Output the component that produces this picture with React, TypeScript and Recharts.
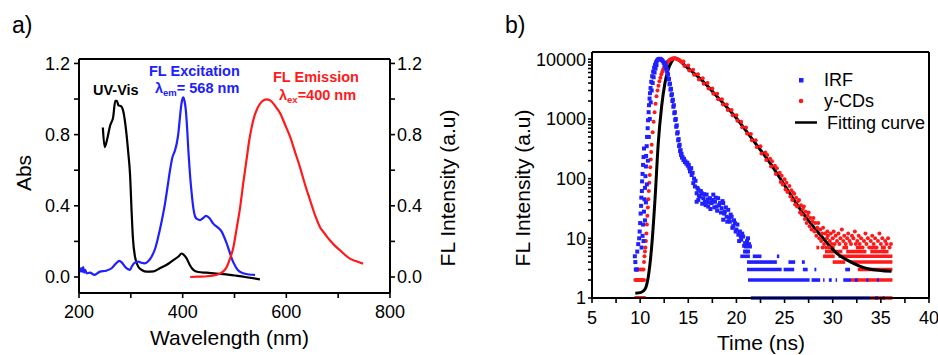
import React from 'react';
import { LineChart, ComposedChart, Line, Scatter, XAxis, YAxis, ReferenceLine } from 'recharts';

// ---------- Panel a data ----------
const uvVis: [number, number][] = [
  [246, 0.84], [249.5, 0.73], [254, 0.77], [260, 0.85], [266, 0.9], [270, 0.99], [273, 0.99], [276, 0.965],
  [281, 0.96], [285.5, 0.93], [291, 0.82], [295, 0.7], [298.4, 0.58], [301.6, 0.36], [304, 0.22], [308, 0.114],
  [314.4, 0.058], [322, 0.038], [330.6, 0.03], [344, 0.032], [356, 0.049], [370, 0.07], [382, 0.095], [392, 0.115],
  [398, 0.132], [402, 0.125], [407.6, 0.105], [414, 0.066], [420.5, 0.04], [430, 0.028], [446, 0.024], [470, 0.018],
  [491, 0.012], [520, 0.0], [549, -0.013],
];
const flExcitation: [number, number][] = [
  [200, 0.045], [202, 0.03], [204, 0.05], [206, 0.028], [208, 0.055], [210, 0.025], [212, 0.04], [215, 0.02],
  [221, 0.024], [230, 0.012], [240.5, 0.03], [252, 0.035], [263, 0.049], [271, 0.075], [277.8, 0.091], [283, 0.08],
  [288.8, 0.058], [294, 0.045], [298.4, 0.04], [302, 0.06], [306, 0.077], [314.5, 0.086], [320, 0.08], [327, 0.077],
  [334, 0.09], [340, 0.114], [347, 0.16], [353, 0.227], [360, 0.32], [366, 0.414], [371, 0.51], [375.6, 0.6],
  [380, 0.67], [385, 0.71], [388.5, 0.75], [391.6, 0.806], [394.5, 0.89], [396.8, 0.955], [399, 0.995], [401, 1.01],
  [403.5, 0.99], [406, 0.94], [408.5, 0.84], [411, 0.71], [414, 0.58], [417.4, 0.47], [420.5, 0.39], [424, 0.34],
  [428, 0.325], [433.5, 0.32], [439, 0.33], [445, 0.343], [452, 0.33], [459, 0.3], [467, 0.28], [475, 0.256],
  [480, 0.225], [484.8, 0.19], [490, 0.145], [494.6, 0.105], [499, 0.075], [504, 0.049], [510, 0.03], [517, 0.021],
  [528, 0.014], [539.6, 0.012],
];
const flEmission: [number, number][] = [
  [414.5, 0.0], [430, 0.002], [446.6, 0.004], [460, 0.009], [472, 0.019], [479, 0.033], [485, 0.056], [491, 0.1],
  [498, 0.169], [504, 0.27], [511, 0.394], [517, 0.53], [524, 0.675], [528, 0.76], [533, 0.84], [538, 0.9],
  [543, 0.94], [548, 0.968], [552.6, 0.985], [557, 0.995], [562, 0.998], [567, 0.995], [572, 0.985], [580, 0.955],
  [588, 0.92], [597, 0.86], [607, 0.79], [616, 0.71], [626, 0.62], [636, 0.52], [646, 0.43], [655, 0.35],
  [665, 0.28], [675, 0.24], [684, 0.206], [694, 0.175], [703.5, 0.15], [713, 0.125], [722.7, 0.103], [735, 0.088],
  [748, 0.075],
];
const aXDomain = [200, 800];
const aYDomain = [-0.09, 1.225];
const aXTicks = [200, 300, 400, 500, 600, 700, 800];
const aXLabels = [200, 400, 600, 800];
const aYTicks = [0, 0.2, 0.4, 0.6, 0.8, 1.0, 1.2];
const aYLabels = [0, 0.4, 0.8, 1.2];

// ---------- Panel b data ----------
const irfPoints: [number, number][] = [
  [9.45, 5], [9.5, 4], [9.55, 3], [9.65, 3], [9.7, 6], [9.8, 8], [9.9, 10], [9.95, 13], [10.0, 18], [10.05, 26],
  [10.1, 35], [10.12, 48], [10.18, 62], [10.2, 90], [10.25, 120], [10.3, 170], [10.35, 230], [10.4, 320],
  [10.15, 7], [10.25, 11], [10.3, 17], [10.4, 28], [10.45, 45], [10.5, 70], [10.55, 110], [10.6, 160], [10.62, 240],
  [10.68, 350], [10.72, 500], [10.78, 700], [10.82, 950], [10.88, 1300], [10.92, 1700], [10.98, 2200], [11.02, 2700],
  [11.08, 3300], [11.15, 4200], [11.25, 5200], [11.35, 6200], [11.45, 7200], [11.55, 8100], [11.65, 8900],
  [11.75, 9500], [11.85, 9900], [11.95, 10100], [12.05, 10200], [12.15, 10000], [12.25, 9700], [12.35, 9300],
  [12.45, 8700], [12.55, 8000], [12.65, 7200], [12.75, 6400], [12.85, 5500], [12.95, 4600], [13.05, 3800],
  [13.15, 3100], [13.25, 2500], [13.35, 2000], [13.45, 1600], [13.55, 1250], [13.65, 960], [13.75, 740], [13.85, 570],
  [13.95, 440], [14.05, 350], [14.15, 290], [14.25, 250], [14.35, 225], [14.5, 205], [14.65, 190], [14.8, 178],
  [14.95, 165], [15.1, 150], [15.2, 135],
  [10.35, 9], [10.5, 20], [10.6, 40], [10.7, 80], [10.8, 200], [10.9, 500], [11.0, 1000], [11.1, 1900], [11.2, 3000],
  [11.3, 4000], [11.4, 5000], [11.5, 6000], [11.6, 7000], [11.7, 8000], [12.6, 8800], [12.7, 7600], [12.8, 6600],
  [12.9, 5600], [13.0, 4700], [13.1, 3900], [13.2, 3200], [13.3, 2600], [13.4, 2100], [13.5, 1700], [13.6, 1300],
  [13.7, 1000], [13.8, 780], [13.9, 600], [14.0, 460], [14.1, 370], [14.2, 300], [14.3, 260], [14.4, 230],
  [14.55, 215], [14.7, 195], [14.9, 185], [15.05, 170],
  [15.18, 132], [15.3, 150], [15.35, 115], [15.45, 125], [15.52, 84], [15.6, 100], [15.69, 74], [15.75, 92],
  [15.87, 57], [15.87, 41], [15.95, 70], [16.04, 65], [16.04, 44], [16.1, 52], [16.2, 50], [16.3, 62], [16.4, 57],
  [16.45, 38], [16.56, 47], [16.65, 55], [16.73, 41], [16.8, 36], [16.9, 54], [17.0, 45], [17.07, 34], [17.15, 40],
  [17.25, 47], [17.3, 31], [17.42, 39], [17.5, 44], [17.6, 54], [17.7, 33], [17.77, 41], [17.85, 48], [17.94, 34],
  [18.0, 29], [18.1, 47], [18.2, 36], [18.3, 39], [18.4, 27], [18.46, 32], [18.55, 42], [18.63, 39], [18.63, 20.5],
  [18.72, 26], [18.8, 28], [18.9, 33], [18.98, 23], [19.05, 19], [19.15, 30], [19.25, 22], [19.32, 19], [19.4, 25],
  [19.5, 23], [19.58, 15], [19.67, 16], [19.75, 20], [19.84, 18], [19.92, 13], [20.0, 14], [20.1, 17], [20.2, 11.5],
  [20.28, 9], [20.36, 13], [20.45, 10.8], [20.5, 9.5], [20.6, 12], [20.7, 10.7], [20.8, 7.5], [20.9, 8.3], [20.9, 6],
  [21.0, 7.3], [21.1, 9], [21.2, 10], [21.2, 6], [21.3, 8], [21.4, 7.3],
];
// constant-count rows of IRF: [count, start ns, end ns]
const irfRows: [number, number, number][] = [
  [5, 20.4, 21.4], [5, 21.7, 22.6], [5, 24.2, 24.45],
  [4, 21.1, 24.2], [4, 25.4, 26.1], [4, 26.8, 27.1],
  [3, 21.1, 24.7], [3, 24.9, 26.0], [3, 26.9, 27.4], [3, 28.1, 28.3], [3, 31.3, 31.8],
  [2, 21.2, 27.6], [2, 27.8, 28.7], [2, 29.0, 29.15], [2, 29.6, 29.9], [2, 30.3, 30.45], [2, 31.1, 31.9],
  [1, 21.5, 33.9],
];
const irfRowsOnTop: [number, number, number][] = [
  [2, 32.3, 32.6], [2, 33.5, 33.7], [2, 34.6, 34.8], [1, 34.4, 34.7], [1, 35.2, 35.4],
];
const cdsPoints: [number, number][] = [
  [9.55, 1], [9.7, 1], [9.85, 1], [10.0, 1], [10.15, 1], [10.3, 1], [10.45, 1],
  [9.5, 2], [9.65, 2], [9.8, 2], [9.95, 2], [10.1, 2], [10.25, 2], [10.4, 2],
  [9.6, 3], [9.8, 3], [10.0, 3], [10.2, 3], [10.35, 3],
  [10.4, 4], [10.45, 5], [10.5, 6], [10.55, 7], [10.6, 9], [10.65, 12], [10.7, 17], [10.75, 24], [10.8, 33],
  [10.85, 45], [10.9, 62], [10.95, 85], [11.0, 115], [11.05, 155], [11.1, 210], [11.15, 280], [11.2, 370],
  [11.3, 600], [11.4, 900], [11.5, 1300], [11.6, 1800], [11.7, 2400], [11.8, 3000], [11.9, 3600], [12.0, 4300],
  [12.1, 4900], [12.2, 5600], [12.3, 6200], [12.4, 6800], [12.5, 7400], [12.6, 7900], [12.7, 8400], [12.8, 8800],
  [12.9, 9200], [13.0, 9500], [13.1, 9800], [13.2, 10000], [13.3, 10200], [13.4, 10300], [13.5, 10400],
  [13.6, 10400], [13.7, 10300], [13.8, 10200], [13.9, 10000], [14.0, 9800], [14.1, 9600], [14.25, 9200], [14.4, 8800],
  [14.5, 9200], [14.6, 7700], [15.0, 7900], [15.1, 6500], [15.5, 6700], [15.6, 5500], [16.0, 5600], [16.1, 4600],
  [16.5, 4800], [16.6, 3900], [17.0, 4000], [17.1, 3250], [17.5, 3250], [17.6, 2650], [18.0, 2650], [18.1, 2150],
  [18.5, 2150], [18.6, 1750], [19.0, 1750], [19.1, 1420], [19.5, 1420], [19.6, 1150], [20.0, 1150], [20.1, 930],
  [20.5, 900], [20.6, 730], [21.0, 720], [21.1, 570], [21.5, 560], [21.6, 440], [22.0, 440], [22.1, 340],
  [22.5, 350], [22.6, 265], [23.0, 275], [23.1, 205], [23.2, 250], [23.5, 215], [23.6, 160], [23.7, 195],
  [24.0, 165], [24.1, 120], [24.2, 150], [24.5, 125], [24.6, 88], [24.7, 112], [24.8, 80], [25.0, 98], [25.1, 66],
  [25.2, 85], [25.3, 60], [25.5, 75], [25.6, 50], [25.7, 64], [25.8, 44], [25.9, 58], [26.0, 56], [26.1, 37],
  [26.2, 48], [26.3, 34], [26.4, 42], [26.5, 44], [26.6, 27], [26.7, 36], [26.8, 25], [26.9, 31], [27.0, 34],
  [27.1, 21], [27.2, 28], [27.3, 18], [27.4, 24], [27.5, 27], [27.6, 16], [27.7, 22], [27.8, 14], [27.9, 19],
  [28.0, 22], [28.1, 13], [28.2, 18], [28.3, 11], [28.4, 15], [28.5, 18], [28.6, 10], [28.7, 14], [28.8, 9],
  [28.9, 12], [28.95, 7], [29.0, 15], [29.1, 8], [29.2, 12], [29.3, 7], [29.4, 10], [29.45, 13], [29.5, 11],
  [29.6, 7], [29.7, 9], [29.8, 12], [29.9, 8], [30.0, 10], [30.1, 13], [30.2, 8], [30.3, 11], [30.45, 9], [30.6, 12],
  [30.7, 8], [30.8, 10], [30.95, 14], [31.1, 9], [31.2, 11], [31.35, 8], [31.5, 10], [31.6, 12], [31.75, 9],
  [31.9, 8], [32.0, 11], [32.15, 10], [32.3, 13], [32.4, 8], [32.55, 9], [32.7, 11], [32.8, 8], [32.95, 10],
  [33.1, 7], [33.25, 9], [33.4, 12], [33.5, 8], [33.65, 10], [33.8, 7], [33.95, 9], [34.1, 11], [34.25, 8],
  [34.4, 10], [34.55, 7], [34.7, 9], [34.85, 12], [35.0, 8], [35.15, 10], [35.3, 7], [35.45, 9], [35.6, 8],
  [35.75, 10], [35.9, 7], [36.05, 8],
];
const cdsRows: [number, number, number][] = [
  [7, 28.3, 28.6], [7, 29.6, 30.2], [7, 31.0, 31.6], [7, 32.4, 33.0], [7, 33.9, 34.5], [7, 35.0, 35.5],
  [6, 29.2, 31.0], [6, 31.4, 33.5], [6, 33.9, 35.8],
  [5, 29.0, 30.2], [5, 30.6, 36.2],
  [4, 30.0, 31.3], [4, 31.8, 36.2],
  [3, 32.6, 36.2],
  [2, 31.9, 36.2],
  [1, 33.9, 36.2],
];
const fitT = [9.5, 10.1, 10.5, 10.85, 11.2, 11.54, 11.88, 12.23, 12.57, 12.9, 13.27, 13.6, 13.96, 14.8, 16.55,
  18.3, 20, 21.7, 23.5, 25.2, 26.9, 28.7, 30.4, 32.1, 33.8, 36.1];
const fitY = [1.2, 1.24, 1.4, 2.3, 7.3, 44, 390, 1620, 3950, 6650, 9130, 10400, 9800, 7500, 4230, 2090, 1030, 447,
  182, 69, 26.5, 11.5, 5.66, 3.85, 3.06, 2.8];
const bXDomain = [5, 40];
const bYDomain = [1, 13250];
const bXTicks = [5, 7.5, 10, 12.5, 15, 17.5, 20, 22.5, 25, 27.5, 30, 32.5, 35, 37.5, 40];
const bYTicks = [1, 2, 3, 4, 5, 6, 7, 8, 9, 10, 20, 30, 40, 50, 60, 70, 80, 90, 100, 200, 300, 400, 500, 600, 700,
  800, 900, 1000, 2000, 3000, 4000, 5000, 6000, 7000, 8000, 9000, 10000];
const bYLabels = [1, 10, 100, 1000, 10000];

// ---------- layout ----------
const FONT = '"Liberation Sans", Arial, sans-serif';
const BLUE = '#2020ff';
const RED = '#ff1a1a';
const FS = 18;
const TW = 1.6;
const FW = 2;
const A = { left: 0 + 29 + 50, right: 470 - 20 - 60, top: 59, bottom: 355 - 22 - 40 };
const B = { left: 470 + 62 + 60, right: 470 + 468 - 9, top: 52, bottom: 355 - 17 - 40 };
const axX = (v: number) => A.left + ((v - aXDomain[0]) / (aXDomain[1] - aXDomain[0])) * (A.right - A.left);
const axY = (v: number) => A.bottom - ((v - aYDomain[0]) / (aYDomain[1] - aYDomain[0])) * (A.bottom - A.top);
const bxX = (v: number) => B.left + ((v - bXDomain[0]) / (bXDomain[1] - bXDomain[0])) * (B.right - B.left);
const byY = (v: number) => B.bottom - (Math.log10(v) / Math.log10(bYDomain[1])) * (B.bottom - B.top);

const toXY = (arr: [number, number][]) => arr.map(([x, y]) => ({ x, y }));
const toTY = (arr: [number, number][]) => arr.map(([t, y]) => ({ t, y }));

const Square = (p: any) => <rect x={p.cx - 2} y={p.cy - 2} width={4} height={4} fill={BLUE} />;
const RedDot = (p: any) => <circle cx={p.cx} cy={p.cy} r={2} fill={RED} />;

const makeTick = (side: 'left' | 'right' | 'bottom', fmt: (v: number) => string) =>
  (p: any) => {
    const { x, y, payload } = p;
    const label = fmt(payload.value);
    const anchor = side === 'left' ? 'end' : side === 'right' ? 'start' : 'middle';
    const dy = side === 'bottom' ? '0.71em' : '0.36em';
    return <text x={x} y={y} dy={dy} textAnchor={anchor} fontSize={FS} fontFamily={FONT} fill="#000">{label}</text>;
  };

const fmtAX = (v: number) => (aXLabels.includes(v) ? String(v) : '');
const fmtAY = (v: number) => (aYLabels.includes(v) ? v.toFixed(1) : '');
const fmtBX = (v: number) => (v % 5 === 0 ? String(v) : '');
const fmtBY = (v: number) => (bYLabels.includes(v) ? String(v) : '');

function PanelA() {
  return (
    <LineChart id="panelA" width={470} height={355} margin={{ top: 59, left: 29, right: 20, bottom: 22 }}>
      <XAxis dataKey="x" type="number" domain={aXDomain} ticks={aXTicks} interval={0} allowDataOverflow
        tick={makeTick('bottom', fmtAX)} axisLine={false} tickLine={false} tickSize={5} tickMargin={7} height={40} />
      <YAxis yAxisId="left" type="number" domain={aYDomain} ticks={aYTicks} interval={0} allowDataOverflow
        tick={makeTick('left', fmtAY)} axisLine={false} tickLine={false} tickSize={5} tickMargin={4} width={50} />
      <YAxis yAxisId="right" orientation="right" type="number" domain={aYDomain} ticks={aYTicks} interval={0}
        allowDataOverflow tick={makeTick('right', fmtAY)} axisLine={false} tickLine={false} tickSize={5}
        tickMargin={2} width={60} />
      <Line yAxisId="left" data={toXY(uvVis)} dataKey="y" type="monotone" stroke="#000" strokeWidth={2.2} dot={false} isAnimationActive={false} />
      <Line yAxisId="right" data={toXY(flExcitation)} dataKey="y" type="monotone" stroke={BLUE} strokeWidth={2.2} dot={false} isAnimationActive={false} />
      <Line yAxisId="right" data={toXY(flEmission)} dataKey="y" type="monotone" stroke={RED} strokeWidth={2.2} dot={false} isAnimationActive={false} />
    </LineChart>
  );
}

function PanelB() {
  const seg = (r: [number, number, number]) => [{ x: r[1], y: r[0] }, { x: r[2], y: r[0] }] as any;
  return (
    <ComposedChart id="panelB" width={468} height={355} margin={{ top: 52, left: 62, right: 9, bottom: 17 }}>
      <XAxis dataKey="t" type="number" domain={bXDomain} ticks={bXTicks} interval={0} allowDataOverflow
        tick={makeTick('bottom', fmtBX)} axisLine={false} tickLine={false} tickSize={5} tickMargin={8} height={40} />
      <YAxis type="number" scale="log" domain={bYDomain} ticks={bYTicks} interval={0} allowDataOverflow
        tick={makeTick('left', fmtBY)} axisLine={false} tickLine={false} tickSize={4} tickMargin={2} width={60} />
      {cdsRows.map((r, i) => (
        <ReferenceLine key={'cr' + i} segment={seg(r)} stroke={RED} strokeWidth={3.6} ifOverflow="visible" />
      ))}
      <Scatter data={toTY(cdsPoints)} dataKey="y" shape={RedDot} isAnimationActive={false} />
      {irfRows.map((r, i) => (
        <ReferenceLine key={'ir' + i} segment={seg(r)} stroke={BLUE} strokeWidth={3.6} ifOverflow="visible" />
      ))}
      <Line data={fitT.map((t, i) => ({ t, y: fitY[i] }))} dataKey="y" type="monotone" stroke="#000"
        strokeWidth={3} dot={false} isAnimationActive={false} />
      <Scatter data={toTY(irfPoints)} dataKey="y" shape={Square} isAnimationActive={false} />
      {irfRowsOnTop.map((r, i) => (
        <ReferenceLine key={'it' + i} segment={seg(r)} stroke={BLUE} strokeWidth={3.6} ifOverflow="visible" />
      ))}
    </ComposedChart>
  );
}

function Frames() {
  const k = { stroke: '#000', strokeWidth: TW };
  const f = { stroke: '#000', strokeWidth: FW };
  return (
    <g>
      <line x1={A.left} x2={A.right} y1={A.top} y2={A.top} {...f} />
      <line x1={A.left} x2={A.right} y1={A.bottom} y2={A.bottom} {...f} />
      <line x1={A.left} x2={A.left} y1={A.top} y2={A.bottom} {...f} />
      <line x1={A.right} x2={A.right} y1={A.top} y2={A.bottom} {...f} />
      {aYTicks.map((v) => <line key={'al' + v} x1={A.left - 5} x2={A.left} y1={axY(v)} y2={axY(v)} {...k} />)}
      {aYTicks.map((v) => <line key={'ar' + v} x1={A.right} x2={A.right + 5} y1={axY(v)} y2={axY(v)} {...k} />)}
      {aXTicks.map((v) => <line key={'ab' + v} x1={axX(v)} x2={axX(v)} y1={A.bottom} y2={A.bottom + 5} {...k} />)}
      <line x1={B.left} x2={B.right} y1={B.top} y2={B.top} {...f} />
      <line x1={B.left} x2={B.right} y1={B.bottom} y2={B.bottom} {...f} />
      <line x1={B.left} x2={B.left} y1={B.top} y2={B.bottom} {...f} />
      <line x1={B.right} x2={B.right} y1={B.top} y2={B.bottom} {...f} />
      {bYTicks.map((v) => <line key={'bl' + v} x1={B.left - 4} x2={B.left} y1={byY(v)} y2={byY(v)} {...k} />)}
      {bXTicks.map((v) => <line key={'bb' + v} x1={bxX(v)} x2={bxX(v)} y1={B.bottom} y2={B.bottom + 5} {...k} />)}
    </g>
  );
}

export default function App() {
  const T = (p: any) => <text fontFamily={FONT} fill="#000" {...p} />;
  return (
    <div style={{ position: 'absolute', left: 0, top: 0, width: 938, height: 355, background: '#fff' }}>
      <div style={{ position: 'absolute', left: 0, top: 0 }}><PanelA /></div>
      <div style={{ position: 'absolute', left: 470, top: 0 }}><PanelB /></div>
      <svg width={938} height={355} style={{ position: 'absolute', left: 0, top: 0, pointerEvents: 'none', zIndex: 5 }}>
        <Frames />
        <T x={12} y={33} fontSize={23}>a)</T>
        <T x={505} y={33} fontSize={23}>b)</T>
        <T x={0} y={0} fontSize={21} textAnchor="middle" dominantBaseline="central" transform="translate(23,173) rotate(-90)">Abs</T>
        <T x={229.5} y={345} fontSize={21} textAnchor="middle">Wavelength (nm)</T>
        <T x={0} y={0} fontSize={21} textAnchor="middle" dominantBaseline="central" transform="translate(447,188) rotate(-90)">FL Intensity (a.u)</T>
        <T x={93} y={95} fontSize={14.5} fontWeight="bold">UV-Vis</T>
        <T x={149} y={76} fontSize={14.5} fontWeight="bold" fill={BLUE}>FL Excitation</T>
        <T x={155} y={93} fontSize={14.5} fontWeight="bold" fill={BLUE}>
          λ<tspan fontSize={9.5} dy={3}>em</tspan><tspan dy={-3}>= 568 nm</tspan>
        </T>
        <T x={273} y={82} fontSize={14.5} fontWeight="bold" fill={RED}>FL Emission</T>
        <T x={279} y={100} fontSize={14.5} fontWeight="bold" fill={RED}>
          λ<tspan fontSize={9.5} dy={3}>ex</tspan><tspan dy={-3}>=400 nm</tspan>
        </T>
        <T x={0} y={0} fontSize={21} textAnchor="middle" dominantBaseline="central" transform="translate(522,188) rotate(-90)">FL Intensity (a.u)</T>
        <T x={761} y={350} fontSize={21} textAnchor="middle">Time (ns)</T>
        <rect x={799} y={78} width={4.5} height={4.5} fill={BLUE} />
        <T x={824} y={86} fontSize={18}>IRF</T>
        <circle cx={801} cy={101} r={2.3} fill={RED} />
        <T x={824} y={107} fontSize={18}>y-CDs</T>
        <line x1={795} x2={817} y1={122.5} y2={122.5} stroke="#000" strokeWidth={2.5} />
        <T x={827} y={129} fontSize={18}>Fitting curve</T>
      </svg>
    </div>
  );
}
